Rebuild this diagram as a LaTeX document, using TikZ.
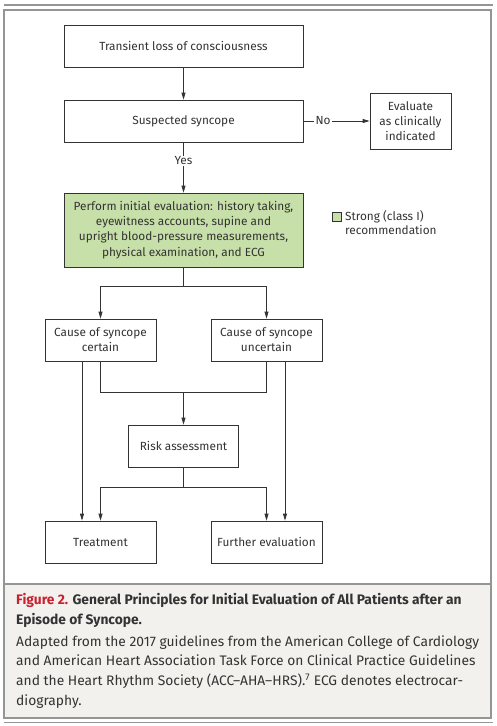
\documentclass[tikz,border=0pt]{standalone}
\usepackage{fontspec}
\setmainfont{Fira Sans}
\usetikzlibrary{arrows.meta}

\definecolor{capbg}{HTML}{F2F1EE}
\definecolor{boxgreen}{HTML}{C7DFA8}
\definecolor{figred}{HTML}{C8202F}
\definecolor{rulegray}{HTML}{959595}
\definecolor{inkgray}{HTML}{333333}

\tikzset{
  box/.style={draw=inkgray, line width=0.8pt, align=center, inner sep=0pt,
    text=inkgray, font=\fontsize{11.8}{15.2}\selectfont},
  flow/.style={-{Triangle[length=7pt,width=4pt]}, line width=0.8pt, draw=inkgray},
  link/.style={line width=0.8pt, draw=inkgray},
  tag/.style={inner sep=1pt, text=inkgray, font=\fontsize{11.8}{14}\selectfont}
}

\begin{document}
\begin{tikzpicture}[x=1pt,y=-1pt]
        \useasboundingbox (0,0) rectangle (496,726);
        % frame and caption panel
        \fill[white] (0,0) rectangle (496,726);
        \fill[capbg] (4,584) rectangle (491,718);
        \draw[rulegray, line width=1.5pt] (4,5) -- (493,5);
        \draw[rulegray, line width=1.2pt] (4,10) rectangle (491,718);
        \draw[rulegray, line width=1.2pt] (4,584) -- (491,584);
        \draw[rulegray, line width=1pt] (4,722) -- (493,722);

        \node[box, minimum width=239pt, minimum height=42pt] (tloc) at (183.5,46) {Transient loss of consciousness};
        \node[box, minimum width=239pt, minimum height=42pt] (susp) at (183.5,121) {Suspected syncope};
        \node[box, minimum width=81pt, minimum height=56pt] (evalc) at (410.5,121) {Evaluate\\as clinically\\indicated};
        \node[tag] (no) at (323,121) {No};
        \node[tag] (yes) at (183.5,161) {Yes};
        \node[box, fill=boxgreen, minimum width=239pt, minimum height=74pt] (init) at (183.5,230)
            {Perform initial evaluation: history taking,\\eyewitness accounts, supine and\\upright blood-pressure measurements,\\physical examination, and ECG};

        % legend
        \node[draw=inkgray, line width=0.6pt, fill=boxgreen, minimum size=9pt, inner sep=0pt] (legsq) at (337,217) {};
        \node[tag, anchor=north west, align=left] (legtxt) at (344,209) {Strong (class I)\\recommendation};

        \node[box, minimum width=111pt, minimum height=42pt] (cert) at (100.5,340) {Cause of syncope\\certain};
        \node[box, minimum width=111pt, minimum height=42pt] (uncert) at (266.5,340) {Cause of syncope\\uncertain};
        \node[box, minimum width=110pt, minimum height=42pt] (risk) at (183.5,446) {Risk assessment};
        \node[box, minimum width=111pt, minimum height=42pt] (treat) at (100.5,542) {Treatment};
        \node[box, minimum width=111pt, minimum height=42pt] (further) at (266.5,542) {Further evaluation};

        \coordinate (split1) at (183.5,286);
        \coordinate (merge) at (183.5,392);
        \coordinate (split2) at (183.5,487);

        \draw[flow] (tloc) -- (susp);
        \draw[link] (susp.east) -- (no.west);
        \draw[flow] (no.east) -- (evalc.west);
        \draw[link] (susp.south) -- (yes.north);
        \draw[flow] (yes.south) -- (init.north);

        \draw[link] (init.south) -- (split1);
        \foreach \n in {cert,uncert} {
            \draw[flow] (split1) -| (\n.north);
            \draw[link] (\n.south) |- (merge);
        }
        \draw[flow] (merge) -- (risk.north);
        \draw[link] (risk.south) -- (split2);
        \foreach \n in {treat,further} {
            \draw[flow] (split2) -| (\n.north);
        }
        \draw[flow] ([xshift=-18.5pt]cert.south) -- ([xshift=-18.5pt]treat.north);
        \draw[flow] ([xshift=18.5pt]uncert.south) -- ([xshift=18.5pt]further.north);

        % caption
        \node[anchor=north west, align=left, inner sep=0pt, text=inkgray,
              font=\fontsize{13.8}{19.7}\selectfont] (caption) at (16,593.5)
            {\textbf{\textcolor{figred}{Figure 2.} General Principles for Initial Evaluation of All Patients after an}\\
             \textbf{Episode of Syncope.}\\[1.8pt]
             Adapted from the 2017 guidelines from the American College of Cardiology\\
             and American Heart Association Task Force on Clinical Practice Guidelines\\
             and the Heart Rhythm Society (ACC--AHA--HRS).\textsuperscript{7} ECG denotes electrocar-\\
             diography.};
    \end{tikzpicture}
\end{document}
